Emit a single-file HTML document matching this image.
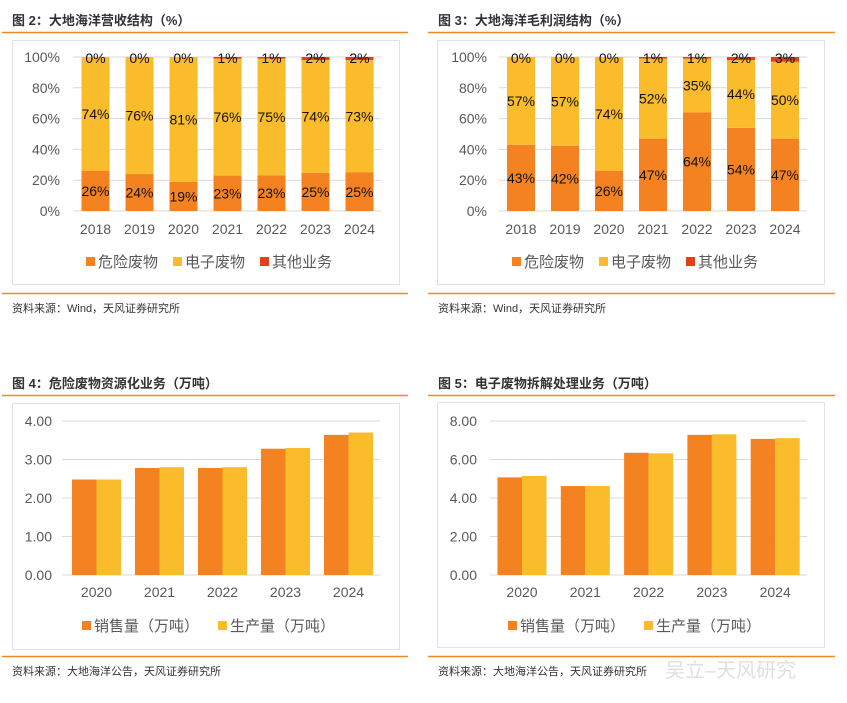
<!DOCTYPE html>
<html><head><meta charset="utf-8">
<style>
html,body{margin:0;padding:0;background:#fff;}
body{width:847px;height:698px;overflow:hidden;font-family:"Liberation Sans","Noto Sans CJK SC",sans-serif;}
svg text{font-family:"Liberation Sans","Noto Sans CJK SC",sans-serif;}
</style></head>
<body>
<svg id="root" width="847" height="698" viewBox="0 0 847 698" xmlns="http://www.w3.org/2000/svg">
  <g>
    <text x="12" y="25" font-size="13" font-weight="bold" fill="#333">图 2：大地海洋营收结构（%）</text>
    <line x1="2" y1="32.5" x2="408" y2="32.5" stroke="#F08A24" stroke-width="1.5"/>
    <rect x="12.5" y="40.5" width="387" height="244" fill="#fff" stroke="#e3e3e3"/>
    <line x1="2" y1="293.5" x2="408" y2="293.5" stroke="#F08A24" stroke-width="1.5"/>
    <text x="12" y="312" font-size="11" fill="#333">资料来源：Wind，天风证券研究所</text>

    <text x="438" y="25" font-size="13" font-weight="bold" fill="#333">图 3：大地海洋毛利润结构（%）</text>
    <line x1="428" y1="32.5" x2="835" y2="32.5" stroke="#F08A24" stroke-width="1.5"/>
    <rect x="437.5" y="40.5" width="387" height="244" fill="#fff" stroke="#e3e3e3"/>
    <line x1="428" y1="293.5" x2="835" y2="293.5" stroke="#F08A24" stroke-width="1.5"/>
    <text x="438" y="312" font-size="11" fill="#333">资料来源：Wind，天风证券研究所</text>

    <text x="12" y="388" font-size="13" font-weight="bold" fill="#333">图 4：危险废物资源化业务（万吨）</text>
    <line x1="2" y1="395.5" x2="408" y2="395.5" stroke="#F08A24" stroke-width="1.5"/>
    <rect x="12.5" y="403.5" width="387" height="246" fill="#fff" stroke="#e3e3e3"/>
    <line x1="2" y1="656.5" x2="408" y2="656.5" stroke="#F08A24" stroke-width="1.5"/>
    <text x="12" y="675" font-size="11" fill="#333">资料来源：大地海洋公告，天风证券研究所</text>

    <text x="438" y="388" font-size="13" font-weight="bold" fill="#333">图 5：电子废物拆解处理业务（万吨）</text>
    <line x1="428" y1="395.5" x2="835" y2="395.5" stroke="#F08A24" stroke-width="1.5"/>
    <rect x="437.5" y="402.5" width="387" height="245" fill="#fff" stroke="#e3e3e3"/>
    <line x1="428" y1="656.5" x2="835" y2="656.5" stroke="#F08A24" stroke-width="1.5"/>
    <text x="438" y="675" font-size="11" fill="#333">资料来源：大地海洋公告，天风证券研究所</text>
    <text x="665" y="677" font-size="20" fill="#d8d8d8" opacity="0.8">吴立–天风研究</text>
  </g>
  <g id="charts"></g>
</svg>
<script>
const years7 = ["2018","2019","2020","2021","2022","2023","2024"];
const revHaz = [26,24,19,23,23,25,25];
const revElec = [74,76,81,76,75,74,73];
const revOther = [0,0,0,1,1,2,2];
const gpHaz = [43,42,26,47,64,54,47];
const gpElec = [57,57,74,52,35,44,50];
const gpOther = [0,0,0,1,1,2,3];
const pctTicks = ["0%","20%","40%","60%","80%","100%"];
const pctTickVals = [0,20,40,60,80,100];
const years5 = ["2020","2021","2022","2023","2024"];
const hazSales = [2.48,2.78,2.78,3.28,3.64];
const hazProd = [2.48,2.80,2.80,3.30,3.70];
const ewSales = [5.07,4.62,6.35,7.28,7.07];
const ewProd = [5.15,4.63,6.32,7.31,7.11];
const hazTicks = ["0.00","1.00","2.00","3.00","4.00"];
const hazTickVals = [0,1,2,3,4];
const ewTicks = ["0.00","2.00","4.00","6.00","8.00"];
const ewTickVals = [0,2,4,6,8];

const NS = "http://www.w3.org/2000/svg";
const C_OR = "#F58220", C_YE = "#FBBC2C", C_RE = "#E0401C";
const root = document.getElementById("charts");
function mk(tag, attrs, parent){
  const e = document.createElementNS(NS, tag);
  for (const k in attrs) e.setAttribute(k, attrs[k]);
  (parent||root).appendChild(e);
  return e;
}

function stacked(cfg){
  const g = mk("g", {});
  
  
  const y = v => cfg.y0 + (cfg.y100 - cfg.y0) * v / 100;
  const x = i => cfg.xc0 + i * cfg.step;
  pctTickVals.forEach((v, i) => {
    const l = mk("line", {x1: cfg.gx1, x2: cfg.gx2, y1: y(v), y2: y(v), stroke: "#d9d9d9", "stroke-width": 1}, g);
    
    
    const t = mk("text", {x: cfg.lx, y: y(v) + 5, "text-anchor": "end", "font-size": 14, fill: "#595959"}, g);
    
    
    t.textContent = pctTicks[i];
  });
  const bw = 28;
  years7.forEach((yr, i) => {
    const a = cfg.haz[i], b = cfg.elec[i], c = cfg.other[i];
    const tot = a + b + c;
    const h = a * 100 / tot, e = b * 100 / tot;
    const r1 = mk("rect", {x: x(i) - bw/2, y: y(h), width: bw, height: y(0) - y(h), fill: C_OR}, g);
    
    
    const r2 = mk("rect", {x: x(i) - bw/2, y: y(h + e), width: bw, height: y(h) - y(h + e), fill: C_YE}, g);
    
    
    const r3 = mk("rect", {x: x(i) - bw/2, y: y(100), width: bw, height: y(h + e) - y(100), fill: C_RE}, g);
    
    
    const t1 = mk("text", {x: x(i), y: y(h/2) + 5, "text-anchor": "middle", "font-size": 14, fill: "#111"}, g);
    
    
    t1.textContent = a + "%";
    const t2 = mk("text", {x: x(i), y: y(h + e/2) + 5, "text-anchor": "middle", "font-size": 14, fill: "#111"}, g);
    
    
    t2.textContent = b + "%";
    const t3 = mk("text", {x: x(i), y: y(100) + 6, "text-anchor": "middle", "font-size": 14, fill: "#111"}, g);
    
    
    t3.textContent = c + "%";
    const xl = mk("text", {x: x(i), y: y(0) + 23, "text-anchor": "middle", "font-size": 14, fill: "#595959"}, g);
    
    
    xl.textContent = yr;
  });
  const leg = [["危险废物", C_OR], ["电子废物", C_YE], ["其他业务", C_RE]];
  leg.forEach((d, i) => {
    const lx = cfg.legX + i * 87;
    const s = mk("rect", {x: lx, y: 257, width: 9, height: 9, fill: d[1]}, g);
    
    
    const t = mk("text", {x: lx + 12, y: 267, "font-size": 15, fill: "#595959"}, g);
    
    
    t.textContent = d[0];
  });
}

function grouped(cfg){
  const g = mk("g", {});
  
  
  const y = v => cfg.y0 + (cfg.yTop - cfg.y0) * v / cfg.max;
  const x = i => cfg.xc0 + i * cfg.step;
  cfg.tickVals.forEach((v, i) => {
    const l = mk("line", {x1: cfg.gx1, x2: cfg.gx2, y1: y(v), y2: y(v), stroke: "#d9d9d9", "stroke-width": 1}, g);
    
    
    const t = mk("text", {x: cfg.lx, y: y(v) + 5, "text-anchor": "end", "font-size": 14, fill: "#595959"}, g);
    
    
    t.textContent = cfg.ticks[i];
  });
  const bw = 24.5;
  years5.forEach((yr, i) => {
    const r1 = mk("rect", {x: x(i) - bw, y: y(cfg.s1[i]), width: bw, height: y(0) - y(cfg.s1[i]), fill: C_OR}, g);
    
    
    const r2 = mk("rect", {x: x(i), y: y(cfg.s2[i]), width: bw, height: y(0) - y(cfg.s2[i]), fill: C_YE}, g);
    
    
    const xl = mk("text", {x: x(i), y: y(0) + 22, "text-anchor": "middle", "font-size": 14, fill: "#595959"}, g);
    
    
    xl.textContent = yr;
  });
  const leg = [["销售量（万吨）", C_OR], ["生产量（万吨）", C_YE]];
  leg.forEach((d, i) => {
    const lx = cfg.legX + i * 136;
    const s = mk("rect", {x: lx, y: 621, width: 9, height: 9, fill: d[1]}, g);
    
    
    const t = mk("text", {x: lx + 12, y: 631, "font-size": 15, fill: "#595959"}, g);
    
    
    t.textContent = d[0];
  });
}

stacked({name: "revenue-structure-chart", haz: revHaz, elec: revElec, other: revOther, y0: 211, y100: 57, xc0: 95.5, step: 44, gx1: 73, gx2: 381, lx: 60, legX: 86});
stacked({name: "gross-profit-structure-chart", haz: gpHaz, elec: gpElec, other: gpOther, y0: 211, y100: 57, xc0: 521, step: 44, gx1: 499, gx2: 807, lx: 487, legX: 512});
grouped({name: "hazardous-waste-chart", s1: hazSales, s2: hazProd, ticks: hazTicks, tickVals: hazTickVals, max: 4, y0: 575, yTop: 421, xc0: 96.5, step: 63, gx1: 62, gx2: 380, lx: 52, legX: 82});
grouped({name: "e-waste-chart", s1: ewSales, s2: ewProd, ticks: ewTicks, tickVals: ewTickVals, max: 8, y0: 575, yTop: 421, xc0: 522, step: 63.3, gx1: 490, gx2: 807, lx: 477, legX: 508});
</script>
</body></html>
